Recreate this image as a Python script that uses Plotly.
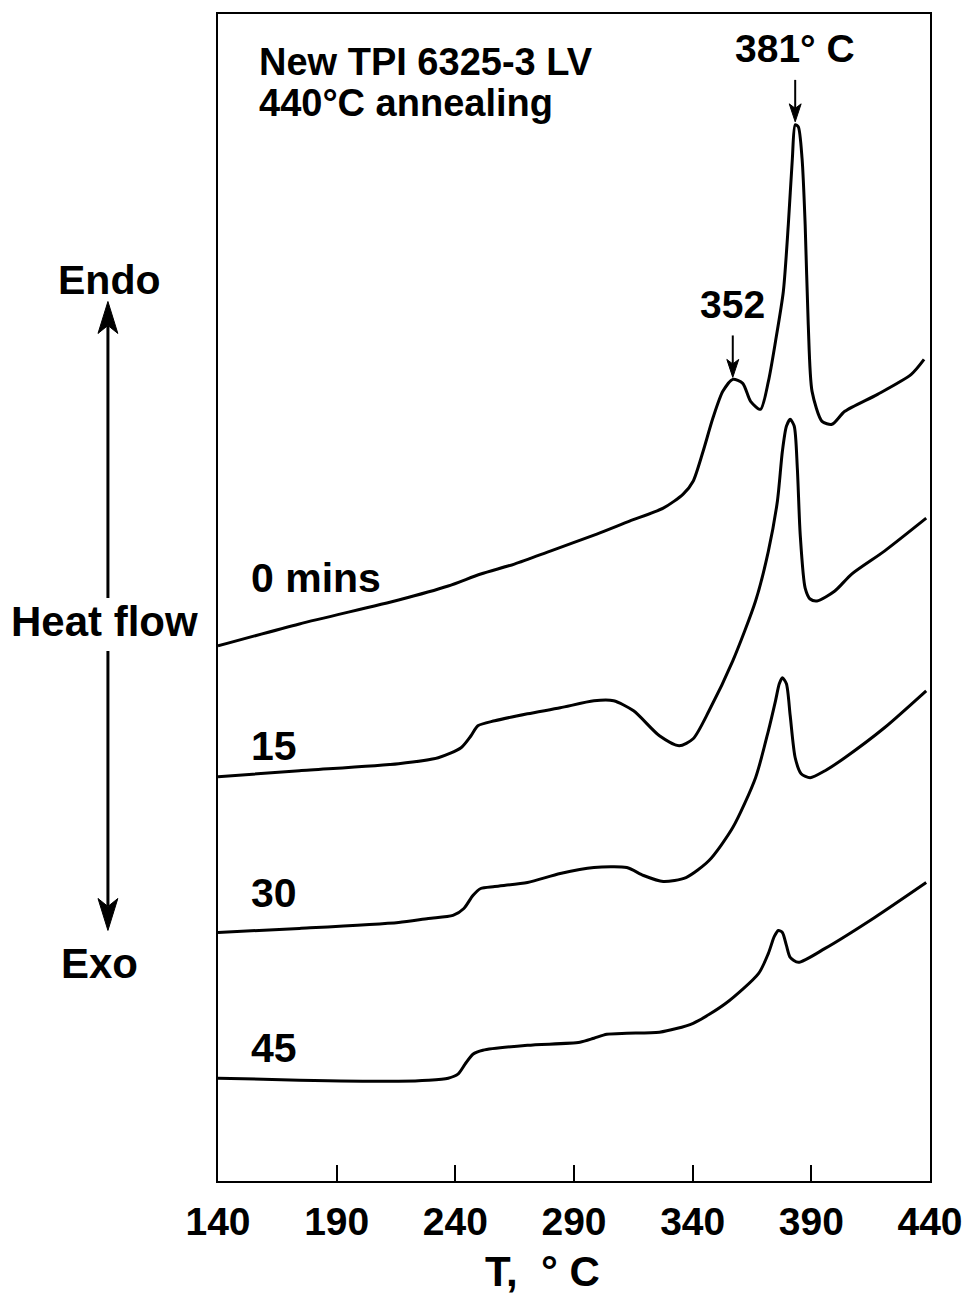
import plotly.graph_objects as go

# ---------------- data ----------------
# temperature in deg C, heat flow in arbitrary units (curves offset vertically)
temp_0 = [140, 174.3, 216.1, 237.0, 250.7, 264.9, 280.0, 299.6, 313.4, 327.6, 336.0, 340.2,
          344.4, 348.5, 352.7, 356.9, 361.1, 364.4, 368.6, 371.9, 374.9, 378.2, 380.3, 382.0,
          383.2, 384.5, 386.1, 387.4, 388.7, 390.3, 394.5, 398.7, 404.1, 417.9, 432.1, 437.5]
hf_0 = [5.36, 5.58, 5.82, 5.96, 6.08, 6.18, 6.31, 6.48, 6.61, 6.74, 6.88, 7.01,
        7.31, 7.64, 7.91, 8.03, 7.99, 7.81, 7.73, 8.01, 8.41, 8.91, 9.58, 10.24,
        10.58, 10.56, 10.24, 9.58, 8.58, 7.91, 7.61, 7.58, 7.71, 7.88, 8.08, 8.23]

temp_15 = [140, 174.3, 216.1, 232.8, 242.4, 246.6, 249.5, 256.6, 270.4, 284.2, 298.4, 306.7,
           315.1, 326.0, 334.3, 340.2, 346.9, 356.9, 366.5, 371.9, 375.7, 377.8, 379.5, 381.1,
           382.8, 384.1, 385.3, 387.4, 389.5, 392.4, 399.9, 407.0, 420.8, 438.4]
hf_15 = [4.05, 4.11, 4.18, 4.24, 4.34, 4.46, 4.56, 4.61, 4.68, 4.74, 4.81, 4.81,
         4.71, 4.46, 4.36, 4.43, 4.71, 5.21, 5.81, 6.31, 6.81, 7.31, 7.56, 7.63,
         7.56, 7.14, 6.48, 5.94, 5.83, 5.81, 5.91, 6.08, 6.31, 6.64]

temp_30 = [140, 174.3, 216.1, 228.6, 239.0, 243.6, 247.4, 250.7, 256.6, 270.4, 284.2, 298.4,
           312.2, 319.3, 327.6, 337.2, 346.9, 356.9, 366.5, 371.9, 374.9, 376.5, 377.8, 379.5,
           381.1, 383.2, 385.7, 389.5, 395.8, 404.1, 420.8, 438.4]
hf_30 = [2.49, 2.53, 2.59, 2.63, 2.66, 2.73, 2.86, 2.93, 2.95, 2.99, 3.08, 3.14,
         3.14, 3.06, 3.00, 3.04, 3.21, 3.54, 4.04, 4.51, 4.81, 4.98, 5.04, 4.98,
         4.66, 4.24, 4.08, 4.04, 4.11, 4.24, 4.54, 4.91]

temp_45 = [140, 174.3, 216.1, 228.6, 237.0, 241.1, 244.1, 247.4, 251.6, 270.4, 292.5, 298.4,
           303.8, 312.2, 326.0, 340.2, 354.0, 367.8, 371.9, 374.4, 376.1, 377.8, 379.5, 381.1,
           384.5, 395.8, 416.7, 438.4]
hf_45 = [1.03, 1.01, 1.00, 1.01, 1.03, 1.07, 1.17, 1.27, 1.31, 1.36, 1.39, 1.43,
         1.47, 1.48, 1.49, 1.58, 1.78, 2.08, 2.28, 2.45, 2.51, 2.49, 2.36, 2.24,
         2.19, 2.33, 2.64, 2.99]

curve_labels = ["0 mins", "15", "30", "45"]
label_hf = [6.04, 4.36, 2.88, 1.33]
label_temp = 154.2

x_ticks = [140, 190, 240, 290, 340, 390, 440]

peak_labels = ["381° C", "352"]
peak_temp = [383.2, 356.9]
peak_hf = [10.61, 8.05]

# ---------------- layout geometry ----------------
W, H = 975, 1300
L, R, T, B = 218, 936, 12, 1181
X0, X1 = 140, 440
Y0, Y1 = 0.0, (B - T) / 100.0

FONT = "Liberation Sans, Arial, Helvetica, sans-serif"


def pxx(px):
    return (px - L) / (R - L)


def pyy(py):
    return (B - py) / (B - T)


def data_to_px(t, h):
    px = L + (t - X0) / (X1 - X0) * (R - L)
    py = B - (h - Y0) / (Y1 - Y0) * (B - T)
    return px, py


fig = go.Figure()
for tx, hy in [(temp_0, hf_0), (temp_15, hf_15), (temp_30, hf_30), (temp_45, hf_45)]:
    fig.add_trace(go.Scatter(x=tx, y=hy, mode="lines",
                             line=dict(color="black", width=3, shape="spline", smoothing=0.7),
                             showlegend=False, hoverinfo="skip"))

annotations = []
shapes = []


def text(px, py, s, size=38, anchor="center"):
    annotations.append(dict(x=pxx(px), y=pyy(py), xref="paper", yref="paper", text=s,
                            showarrow=False, xanchor=anchor, yanchor="middle",
                            font=dict(family=FONT, size=size, color="black", weight="bold")))


def arrow(px, py_tail, py_tip, lw, head_len, head_half):
    d = 1 if py_tip > py_tail else -1
    base = py_tip - d * head_len
    notch = py_tip - d * head_len * 0.75
    shapes.append(dict(type="line", xref="paper", yref="paper",
                       x0=pxx(px), x1=pxx(px), y0=pyy(py_tail), y1=pyy(notch),
                       line=dict(color="black", width=lw)))
    path = "M {:.5f},{:.5f} L {:.5f},{:.5f} L {:.5f},{:.5f} L {:.5f},{:.5f} Z".format(
        pxx(px), pyy(py_tip), pxx(px - head_half), pyy(base), pxx(px), pyy(notch),
        pxx(px + head_half), pyy(base))
    shapes.append(dict(type="path", xref="paper", yref="paper", path=path,
                       fillcolor="black", line=dict(color="black", width=1)))


# title lines
text(257, 60, "New TPI 6325-3 LV", anchor="left")
text(257, 101, "440°C annealing", anchor="left")

# curve labels
for lab, hv in zip(curve_labels, label_hf):
    px, py = data_to_px(label_temp, hv)
    text(px - 3, py, lab, size=41, anchor="left")

# peak labels with arrows
for lab, tv, hv in zip(peak_labels, peak_temp, peak_hf):
    px, py = data_to_px(tv, hv)
    text(px, py - 73, lab, size=39)
    arrow(px, py - 42, py, 2, 18, 6)

# left side heat-flow indicator
text(108, 278, "Endo", size=41)
text(104, 621, "Heat flow", size=42)
text(98, 963, "Exo", size=42)
arrow(107, 597, 300, 3, 32, 10)
arrow(107, 650, 930, 3, 32, 10)

# x-axis title
text(545, 1272, "T,\u00a0\u00a0°\u00a0C", size=42)

fig.update_layout(
    width=W, height=H,
    margin=dict(l=L, r=W - R, t=T, b=H - B),
    paper_bgcolor="white", plot_bgcolor="white",
    annotations=annotations, shapes=shapes,
    xaxis=dict(range=[X0, X1], tickvals=x_ticks, ticktext=[str(v) for v in x_ticks],
               ticks="inside", ticklen=16, tickwidth=2, tickcolor="black",
               showline=True, linewidth=2, linecolor="black", mirror=True,
               showgrid=False, zeroline=False, ticklabelstandoff=5,
               tickfont=dict(family=FONT, size=39, color="black", weight="bold")),
    yaxis=dict(range=[Y0, Y1], showticklabels=False, ticks="",
               showline=True, linewidth=2, linecolor="black", mirror=True,
               showgrid=False, zeroline=False),
)

fig.write_html("out.html")
